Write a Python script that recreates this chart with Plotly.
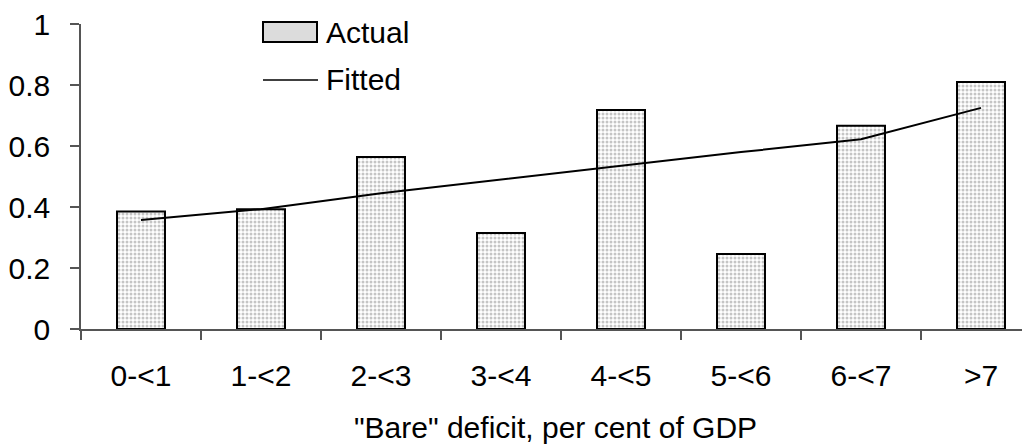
import plotly.graph_objects as go

categories = ["0-<1", "1-<2", "2-<3", "3-<4", "4-<5", "5-<6", "6-<7", ">7"]
actual = [0.385, 0.393, 0.564, 0.315, 0.718, 0.246, 0.666, 0.81]
fitted = [0.357, 0.393, 0.445, 0.49, 0.535, 0.58, 0.622, 0.725]
y_ticks = [0, 0.2, 0.4, 0.6, 0.8, 1]
y_tick_labels = ["0", "0.2", "0.4", "0.6", "0.8", "1"]

FONT = "Liberation Sans, Arial, sans-serif"
OFF = 8  # page body margin
PAGE_W, PAGE_H = 1030, 444
W, H = PAGE_W - OFF, PAGE_H - OFF
# plot area in page pixels
PL, PR, PT, PB = 81, 1030, 24, 329
L, T = PL - OFF, PT - OFF
R = (OFF + W) - PR
B = (OFF + H) - PB
pw, ph = PR - PL, PB - PT

def px(x):
    return (x - PL) / pw

def py(y):
    return (PB - y) / ph

fig = go.Figure()
fig.add_trace(go.Bar(
    x=categories, y=actual, width=0.4, name="Actual",
    marker=dict(color="white", line=dict(color="black", width=2),
                pattern=dict(shape=".", size=4, solidity=0.45,
                             fgcolor="#8c8c8c", bgcolor="white")),
    showlegend=False,
))
fig.add_trace(go.Scatter(
    x=categories, y=fitted, mode="lines", name="Fitted",
    line=dict(color="black", width=2), showlegend=False,
))

# custom legend
fig.add_shape(type="rect", xref="paper", yref="paper",
              x0=px(263), x1=px(317), y0=py(42), y1=py(22),
              line=dict(color="black", width=2), fillcolor="#dcdcdc")
fig.add_shape(type="line", xref="paper", yref="paper",
              x0=px(263), x1=px(318), y0=py(80), y1=py(80),
              line=dict(color="black", width=1.5))
fig.add_annotation(text="Actual", xref="paper", yref="paper",
                   x=px(324), y=py(32), xanchor="left", yanchor="middle",
                   showarrow=False, font=dict(family=FONT, size=30, color="black"))
fig.add_annotation(text="Fitted", xref="paper", yref="paper",
                   x=px(324), y=py(79), xanchor="left", yanchor="middle",
                   showarrow=False, font=dict(family=FONT, size=30, color="black"))

fig.update_layout(
    width=W, height=H,
    margin=dict(l=L, r=R, t=T, b=B, pad=0),
    paper_bgcolor="white", plot_bgcolor="white",
    font=dict(family=FONT, size=30, color="black"),
    xaxis=dict(
        type="category", range=[-0.5, 7.5 - 11 / 120],
        showline=True, linecolor="#555555", linewidth=1.5,
        ticks="outside", ticklen=9, tickcolor="#555555", tickwidth=1.5,
        tickson="boundaries", showgrid=False, zeroline=False,
        tickfont=dict(size=30), ticklabelstandoff=19,
        title=dict(text='"Bare" deficit, per cent of GDP', font=dict(size=30), standoff=26),
    ),
    yaxis=dict(
        range=[0, 1], tickvals=y_ticks, ticktext=y_tick_labels,
        showline=True, linecolor="#555555", linewidth=1.5,
        ticks="outside", ticklen=9, tickcolor="#555555", tickwidth=1.5,
        showgrid=False, zeroline=False, tickfont=dict(size=30),
        ticklabelstandoff=14, ticklabeloverflow="allow",
    ),
)

fig.write_html("out.html")
